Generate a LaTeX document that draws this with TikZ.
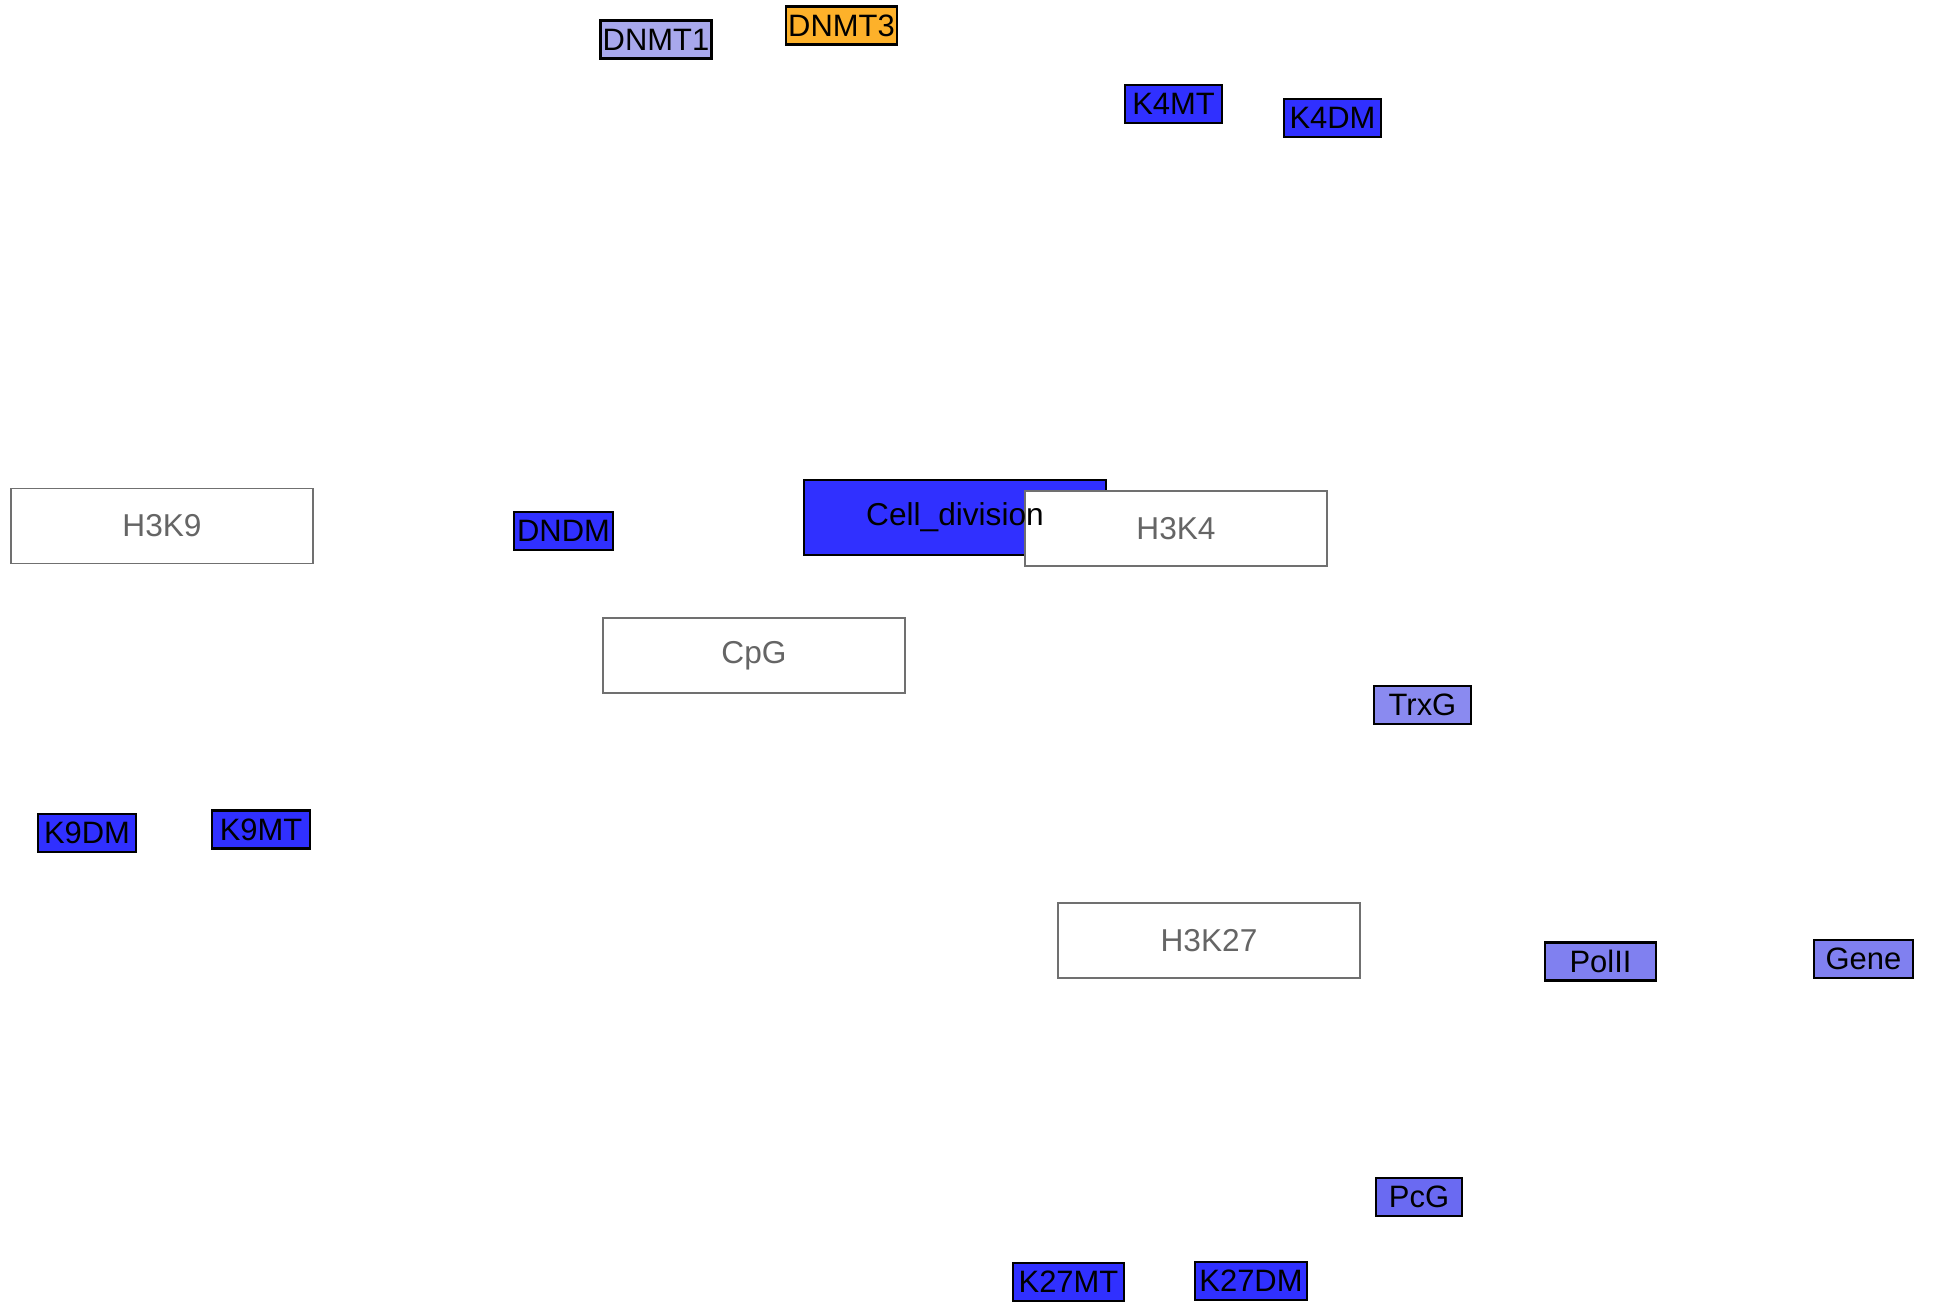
\documentclass[tikz,border=0pt]{standalone}
\usepackage{fontspec}
\setmainfont{Liberation Sans}
\definecolor{darkblue}{HTML}{3030FF}
\definecolor{midblue}{HTML}{8080F0}
\definecolor{paleblue}{HTML}{8A8AF0}
\definecolor{pcgblue}{HTML}{6A6AF2}
\definecolor{lavender}{HTML}{A8A8EC}
\definecolor{dnmtorange}{HTML}{FDB12A}
\definecolor{boxgray}{HTML}{707070}
\begin{document}
\begin{tikzpicture}[x=0.1mm, y=-0.1mm,
	enzyme/.style={draw=black, line width=0.6pt, inner sep=0pt, minimum height=3.8mm, font=\fontsize{8.8}{10}\selectfont},
	mark box/.style={draw=boxgray, fill=white, line width=0.45pt, inner sep=0pt, minimum width=30.2mm, minimum height=7.5mm, text=boxgray!90!black, font=\fontsize{9}{11}\selectfont}]
		\useasboundingbox (0,0) rectangle (1934,1305);
		% histone marks and CpG
		\node[mark box] (H3K9) at (162,526) {H3K9};
		\node[mark box] (CpG) at (754,655.5) {CpG};
		\node[mark box] (H3K27) at (1209,940.5) {H3K27};
		\node[mark box, draw=black, line width=0.6pt, fill=darkblue] (CellDiv) at (955,517.5) {};
		\node[mark box] (H3K4) at (1176,528.5) {H3K4};
		\node[font=\fontsize{9}{11}\selectfont] at (CellDiv) {Cell\_division};
		% enzymes and factors
		\foreach \n/\x/\y/\w/\c in {DNMT1/656/39.5/111/lavender, DNMT3/841.5/25.5/111/dnmtorange,
			K4MT/1173.5/104/97/darkblue, K4DM/1332.5/118/97/darkblue, DNDM/563.5/531/99/darkblue,
			TrxG/1422.5/705/97/paleblue, K9DM/87/833/98/darkblue, K9MT/261/829.5/98/darkblue,
			PolII/1600.5/961.5/111/midblue, Gene/1863.5/959/99/midblue, PcG/1419/1197/86/pcgblue,
			K27MT/1068.5/1282/111/darkblue, K27DM/1251/1281/112/darkblue}{
				\node[enzyme, fill=\c, minimum width=\w*0.1mm] (\n) at (\x,\y) {\n};}
	\end{tikzpicture}
\end{document}
